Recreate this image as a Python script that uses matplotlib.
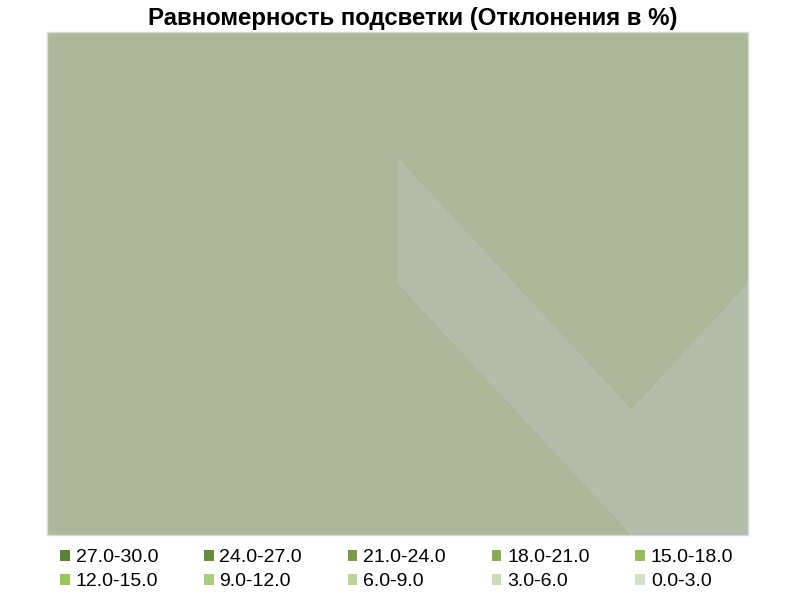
import matplotlib
matplotlib.use('Agg')
import matplotlib.pyplot as plt
import matplotlib.tri as mtri
from matplotlib.patches import Patch
import numpy as np

plt.rcParams['font.family'] = ['Liberation Sans', 'DejaVu Sans']

# grid of measuring points (columns x rows), rows listed from top to bottom
cols = [0, 1, 2, 3, 4, 5, 6]
rows = [0, 1, 2, 3, 4]
deviation = [
    [8.2, 8.0, 7.8, 7.9, 8.1, 8.3, 8.4],
    [8.1, 7.9, 7.7, 5.99, 8.0, 8.2, 8.3],
    [8.0, 7.8, 7.6, 5.99, 5.99, 8.1, 5.99],
    [7.9, 7.7, 7.5, 7.6, 5.99, 5.99, 5.99],
    [7.8, 7.6, 7.4, 7.5, 7.7, 5.99, 5.99],
]

levels = [0, 3, 6, 9, 12, 15, 18, 21, 24, 27, 30]
level_colors = ['#d4dfcb', '#ccdabc', '#bdd39f', '#aacc80', '#9cc55e',
                '#96bb58', '#88aa50', '#7a9a48', '#6a8a40', '#5f7d3b']

title = 'Равномерность подсветки (Отклонения в %)'

z = np.array(deviation)
X, Y = np.meshgrid(cols, rows)
nr, nc = z.shape
idx = np.arange(nr * nc).reshape(nr, nc)
triangles = []
for r in range(nr - 1):
    for c in range(nc - 1):
        a, b = idx[r, c], idx[r, c + 1]
        d, e = idx[r + 1, c], idx[r + 1, c + 1]
        # split each cell along the diagonal whose ends are closest in value
        if abs(z[r, c] - z[r + 1, c + 1]) <= abs(z[r, c + 1] - z[r + 1, c]):
            triangles += [[a, b, e], [a, e, d]]
        else:
            triangles += [[a, b, d], [b, e, d]]
tri = mtri.Triangulation(X.ravel(), Y.ravel(), triangles)

fig = plt.figure(figsize=(8, 5.99), dpi=100)
ax = fig.add_axes([0.059, 0.107, 0.876, 0.840])
ax.set_facecolor('#959595')
ax.tricontourf(tri, z.ravel(), levels=levels, colors=level_colors, alpha=0.57,
               antialiased=True)
ax.set_xlim(cols[0], cols[-1])
ax.set_ylim(rows[-1], rows[0])
ax.set_xticks([])
ax.set_yticks([])
for s in ax.spines.values():
    s.set_color('#d9d9d9')
    s.set_linewidth(1)

fig.text(0.516, 0.969, title, ha='center', va='center', fontsize=17.3,
         fontweight='bold')

labels = ['%.1f-%.1f' % (levels[i], levels[i + 1]) for i in range(len(levels) - 1)]
handles = [Patch(facecolor=level_colors[i], edgecolor='none', label=labels[i])
           for i in range(len(labels))][::-1]
# matplotlib fills legend column-wise, so reorder for row-wise reading
order = []
for c in range(5):
    order += [c, c + 5]
handles = [handles[i] for i in order]
fig.legend(handles=handles, loc='center', bbox_to_anchor=(0.496, 0.049), ncol=5,
           frameon=False, fontsize=14, handlelength=0.5, handleheight=0.5,
           handletextpad=0.3, columnspacing=2.35, labelspacing=0.38)

fig.savefig('out.png', dpi=100)
